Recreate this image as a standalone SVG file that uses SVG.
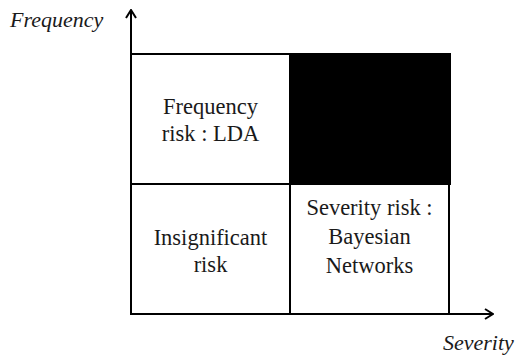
<svg xmlns="http://www.w3.org/2000/svg" width="518" height="358" viewBox="0 0 518 358">
<style>
.cell{fill:#fff;stroke:#000;stroke-width:2}
.t{font-family:"Liberation Serif","Times New Roman",serif;font-size:22.5px;fill:#1a1a1a;text-anchor:middle}
.ax{font-family:"Liberation Serif","Times New Roman",serif;font-size:22px;font-style:italic;fill:#1a1a1a}
.axis{stroke:#000;stroke-width:2;fill:none}
</style>
<defs>
<marker id="arr" viewBox="0 0 12 12" refX="11" refY="6" markerWidth="12" markerHeight="12" markerUnits="userSpaceOnUse" orient="auto">
<path d="M3,1 L11,6 L3,11" fill="none" stroke="#000" stroke-width="2"/>
</marker>
</defs>
<g id="connectors">
<line class="axis" x1="131" y1="314" x2="131" y2="10" marker-end="url(#arr)"/>
<line class="axis" x1="131" y1="314" x2="493" y2="314" marker-end="url(#arr)"/>
</g>
<g id="frequency-risk">
<rect class="cell" x="131" y="54" width="159" height="130"/>
<text class="t" x="210.5" y="114">Frequency</text>
<text class="t" x="210.5" y="141">risk : LDA</text>
</g>
<g id="high-risk">
<rect x="290" y="54" width="160" height="130" fill="#000" stroke="#000" stroke-width="2"/>
</g>
<g id="insignificant-risk">
<rect class="cell" x="131" y="184" width="159" height="130"/>
<text class="t" x="210.5" y="245">Insignificant</text>
<text class="t" x="210.5" y="272">risk</text>
</g>
<g id="severity-risk">
<rect class="cell" x="290" y="184" width="159" height="130"/>
<text class="t" x="369.5" y="215">Severity risk :</text>
<text class="t" x="369.5" y="244">Bayesian</text>
<text class="t" x="369.5" y="273">Networks</text>
</g>
<g id="axis-labels">
<text class="ax" x="10" y="27">Frequency</text>
<text class="ax" x="443" y="350">Severity</text>
</g>
</svg>
